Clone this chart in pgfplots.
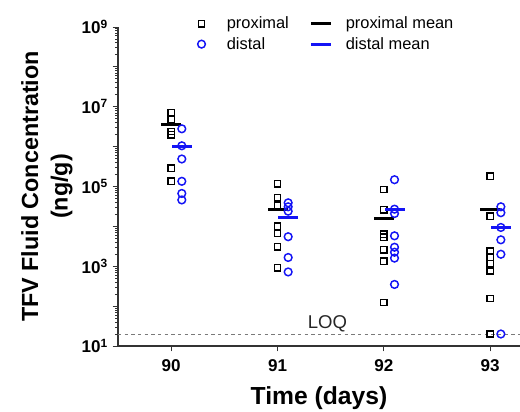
\documentclass[border=0pt]{standalone}
\usepackage{fontspec}
\setmainfont{Liberation Sans}
\usepackage{pgfplots}
\pgfplotsset{compat=1.18}
\definecolor{distblue}{HTML}{1414F5}
\definecolor{loqgray}{HTML}{7A7A7A}

% squares at the day, circles shifted right by 0.1 day
\pgfplotstableread{
x y
90 7.2e6
90 4.9e6
90 2.4e6
90 2.0e6
90 2.9e5
90 1.35e5
91 1.18e5
91 5.2e4
91 3.4e4
91 1.0e4
91 6.8e3
91 3.1e3
91 910
92 8.4e4
92 2.6e4
92 6.3e3
92 5.3e3
92 2.6e3
92 1.33e3
92 123
93 1.8e5
93 1.8e4
93 2.4e3
93 1.7e3
93 1.15e3
93 760
93 155
93 20
}\proximal
\pgfplotstableread{
x y
90.1 2.8e6
90.1 1.05e6
90.1 4.9e5
90.1 1.35e5
90.1 6.7e4
90.1 4.6e4
91.1 3.9e4
91.1 3.1e4
91.1 2.4e4
91.1 5.5e3
91.1 1.66e3
91.1 720
92.1 1.48e5
92.1 2.7e4
92.1 2.1e4
92.1 5.8e3
92.1 3.0e3
92.1 2.25e3
92.1 1.6e3
92.1 350
93.1 3.1e4
93.1 2.2e4
93.1 9.4e3
93.1 4.6e3
93.1 2.0e3
93.1 20
}\distal

\begin{document}
\begin{tikzpicture}
\begin{axis}[
  name=ax,
  scale only axis,
  width=301.5pt, height=239.25pt,
  ymode=log, ymin=10, ymax=1e9,
  xmin=89.5, xmax=93.28,
  axis lines=left,
  axis line style={-, line width=0.9pt, black!80},
  tick align=outside,
  major tick length=4pt, minor tick length=2.2pt,
  tick style={black!80, line width=0.6pt},
  xtick={90,91,92,93},
  xticklabels={\textbf{90},\textbf{91},\textbf{92},\textbf{93}},
  xticklabel style={yshift=-3pt},
  ytickten={1,...,9},
  yticklabels={\textbf{10\textsuperscript{1}},{},\textbf{10\textsuperscript{3}},{},\textbf{10\textsuperscript{5}},{},\textbf{10\textsuperscript{7}},{},\textbf{10\textsuperscript{9}}},
  ticklabel style={font=\fontsize{12.8}{15}\selectfont},
  xlabel={\textbf{Time (days)}},
  xlabel style={font=\fontsize{18.5}{22}\selectfont, yshift=-4pt},
  ylabel={\textbf{TFV Fluid Concentration}\\[2pt]\textbf{(ng/g)}},
  ylabel style={font=\fontsize{17.5}{20}\selectfont, align=center},
  legend columns=2,
  legend cell align=left,
  legend image code/.code={
    \path[#1] plot[only marks] coordinates {(0pt,0pt)};
    \path[draw=none, fill=none] (-10pt,0pt) -- (17pt,0pt);},
  legend style={draw=none, fill=none, at={(0.164,1.05)}, anchor=north west,
    font=\fontsize{12.3}{15}\selectfont, column sep=0pt, row sep=1pt,
    /tikz/every even column/.append style={column sep=11.75pt}},
  clip=false,
]
\addplot[only marks, mark=square, mark size=2.4pt, mark options={black, line width=1.1pt}]
  table[x=x,y=y] {\proximal};
\addlegendentry{proximal}
\addplot[only marks, mark=-, mark size=7.5pt, mark options={black, line width=2.3pt}]
  coordinates {(90,3.6e6) (91,2.7e4) (92,1.6e4) (93,2.6e4)};
\addlegendentry{proximal mean}
\addplot[only marks, mark=o, mark size=2.9pt, mark options={distblue, line width=1.1pt}]
  table[x=x,y=y] {\distal};
\addlegendentry{distal}
\addplot[only marks, mark=-, mark size=7.5pt, mark options={distblue, line width=2.3pt}]
  coordinates {(90.1,1.0e6) (91.1,1.7e4) (92.1,2.6e4) (93.1,9.2e3)};
\addlegendentry{distal mean}
\addplot[forget plot, loqgray, line width=0.6pt, dash pattern=on 2.5pt off 2.5pt]
  coordinates {(89.5,20) (93.28,20)};
\node[anchor=south, inner sep=1pt, font=\fontsize{13.9}{16}\selectfont, black!85]
  at (axis cs:91.47,20) {LOQ};
\end{axis}
\pgfresetboundingbox
\path ([xshift=-88.5pt,yshift=-48.75pt]ax.south west) rectangle ([yshift=20.25pt]ax.north east);
\end{tikzpicture}
\end{document}
